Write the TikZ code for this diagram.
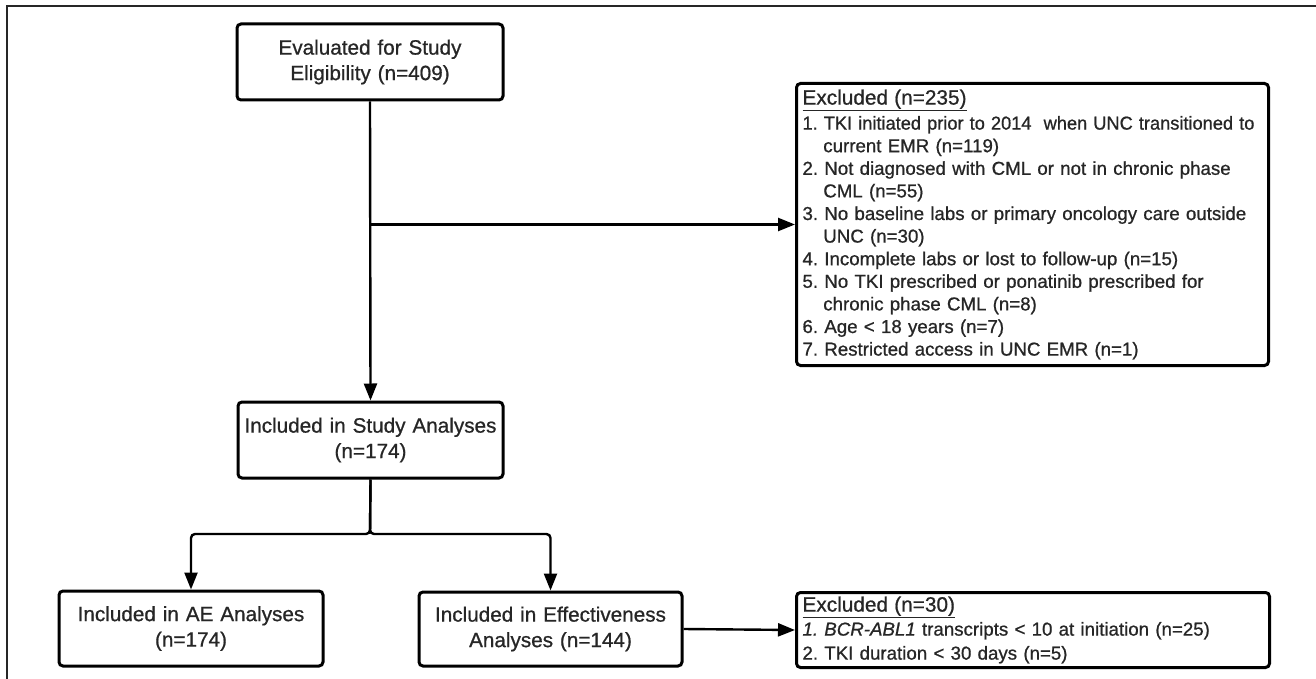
\documentclass[tikz,border=0pt]{standalone}
\usepackage{fontspec}
\setmainfont[FakeBold=0.8]{Liberation Sans}
\usetikzlibrary{arrows.meta}
\definecolor{txt}{RGB}{38,38,38}
\newcommand{\hd}[1]{{\fontsize{20.8}{25}\selectfont\underline{#1}}}
\newcommand{\ind}{\hspace*{20.8pt}}
\begin{document}
\frenchspacing
\begin{tikzpicture}[x=1pt,y=-1pt,
  box/.style={draw=black, line width=3pt, rounded corners=4pt, fill=white, inner sep=0pt, text=txt},
  cbox/.style={box, align=center, font=\fontsize{20.7}{25.5}\selectfont},
  lbox/.style={box, align=left, inner xsep=6pt, inner ysep=0pt, anchor=north west, font=\fontsize{18.7}{22.6}\selectfont},
  conn/.style={line width=2.4pt, -{Triangle[length=17pt,width=13pt]}},
  branch/.style={conn, rounded corners=4pt},
]
\useasboundingbox (0,0) rectangle (1316,679);
\fill[white] (0,0) rectangle (1316,679);
\draw[line width=1.5pt, black!85] (7,679) -- (7,6) -- (1316,6);

\node[cbox, text width=266pt, minimum height=76pt] (eval) at (370,62) {Evaluated for Study\\Eligibility (n=409)};
\node[cbox, text width=265pt, minimum height=76pt] (study) at (370.5,440) {Included in Study Analyses\\(n=174)};
\node[cbox, text width=264pt, minimum height=75pt] (ae) at (191,628.5) {Included in AE Analyses\\(n=174)};
\node[cbox, text width=263pt, minimum height=74pt] (eff) at (550.5,629) {Included in Effectiveness\\Analyses (n=144)};

\node[lbox, text width=460pt, minimum height=282pt] (ex1) at (795,82) {%
\hd{Excluded (n=235)}\\[2.4pt]
\scalebox{0.975}[1]{1. TKI initiated prior to 2014~ when UNC transitioned to}\\
\ind current EMR (n=119)\\
2. Not diagnosed with CML or not in chronic phase\\
\ind CML (n=55)\\
3. No baseline labs or primary oncology care outside\\
\ind UNC (n=30)\\
4. Incomplete labs or lost to follow-up (n=15)\\
5. No TKI prescribed or ponatinib prescribed for\\
\ind chronic phase CML (n=8)\\
6. Age < 18 years (n=7)\\
7. Restricted access in UNC EMR (n=1)};

\node[lbox, text width=461pt, minimum height=75pt, font=\fontsize{18.7}{24}\selectfont] (ex2) at (795,591) {%
\hd{Excluded (n=30)}\\
\textit{1. BCR-ABL1} transcripts < 10 at initiation (n=25)\\
2. TKI duration < 30 days (n=5)};

\coordinate (split) at (370,534);
\draw[conn] (eval.south) -- (study.north);
\draw[conn] (eval.south |- ex1.west) -- (ex1.west);
\draw[branch] (study.south) -- (split) -- (split -| ae.north) -- (ae.north);
\draw[branch] (study.south) -- (split) -- (split -| eff.north) -- (eff.north);
\draw[conn] (eff.east) -- (ex2.west);
\end{tikzpicture}
\end{document}
